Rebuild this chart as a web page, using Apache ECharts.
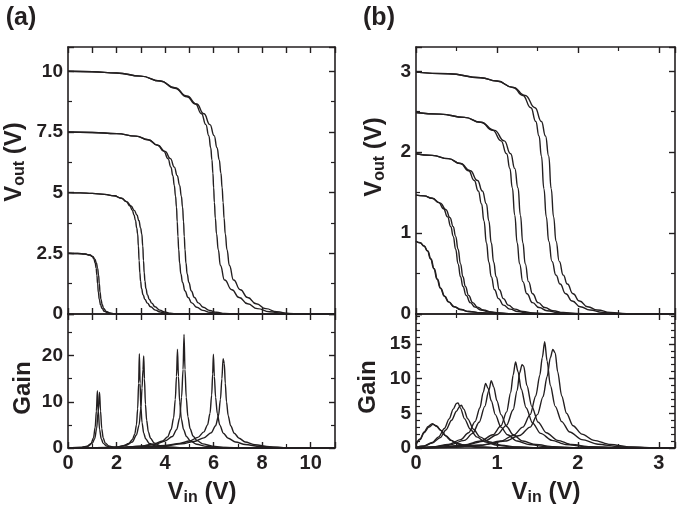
<!DOCTYPE html>
<html><head><meta charset="utf-8">
<script src="https://cdn.jsdelivr.net/npm/echarts@6/dist/echarts.min.js"></script>
<style>html,body{margin:0;padding:0;background:#fff}#c{width:685px;height:508px}</style>
</head><body><div id="c"></div>
<script>
// ---------- Panel (a): Vout vs Vin ----------
const aV25f_x = [0, 0.4, 0.7, 0.9, 1.0, 1.07, 1.12, 1.16, 1.19, 1.22, 1.25, 1.29, 1.34, 1.4, 1.5, 1.65, 1.85, 2.1, 11];
const aV25f_y = [2.5, 2.49, 2.47, 2.43, 2.37, 2.26, 2.1, 1.88, 1.6, 1.25, 0.9, 0.6, 0.38, 0.23, 0.11, 0.045, 0.012, 0, 0];
const aV25b_x = [0, 0.4, 0.7, 0.9, 1.02, 1.11, 1.17, 1.22, 1.26, 1.29, 1.32, 1.36, 1.41, 1.47, 1.57, 1.72, 1.92, 2.15, 11];
const aV25b_y = [2.5, 2.49, 2.47, 2.43, 2.37, 2.26, 2.1, 1.88, 1.6, 1.25, 0.9, 0.6, 0.38, 0.23, 0.11, 0.045, 0.012, 0, 0];
const aV5f_x = [0, 0.5, 1.0, 1.5, 1.9, 2.2, 2.4, 2.55, 2.65, 2.72, 2.78, 2.83, 2.87, 2.9, 2.93, 2.96, 2.99, 3.03, 3.09, 3.17, 3.27, 3.4, 3.6, 3.8, 4.05, 4.3, 11];
const aV5f_y = [5.0, 4.99, 4.97, 4.93, 4.87, 4.77, 4.63, 4.45, 4.27, 4.08, 3.85, 3.55, 3.3, 2.8, 2.2, 1.7, 1.35, 1.05, 0.8, 0.6, 0.45, 0.3, 0.16, 0.08, 0.03, 0, 0];
const aV5b_x = [0, 0.5, 1.0, 1.5, 1.9, 2.2, 2.42, 2.6, 2.73, 2.84, 2.92, 2.99, 3.04, 3.08, 3.11, 3.14, 3.17, 3.21, 3.27, 3.35, 3.45, 3.58, 3.78, 3.98, 4.22, 4.5, 11];
const aV5b_y = [5.0, 4.99, 4.97, 4.93, 4.87, 4.77, 4.63, 4.45, 4.27, 4.08, 3.85, 3.55, 3.3, 2.8, 2.2, 1.7, 1.35, 1.05, 0.8, 0.6, 0.45, 0.3, 0.16, 0.08, 0.03, 0, 0];
const aV75f_x = [0, 1.0, 2.0, 2.8, 3.3, 3.7, 3.95, 4.12, 4.24, 4.32, 4.38, 4.43, 4.47, 4.5, 4.53, 4.56, 4.6, 4.65, 4.72, 4.82, 4.95, 5.1, 5.3, 5.55, 5.85, 6.2, 6.6, 11];
const aV75f_y = [7.5, 7.48, 7.43, 7.33, 7.18, 6.95, 6.7, 6.4, 6.05, 5.7, 5.3, 4.85, 4.4, 3.8, 3.2, 2.65, 2.1, 1.65, 1.3, 0.95, 0.68, 0.46, 0.28, 0.15, 0.07, 0.02, 0, 0];
const aV75b_x = [0, 1.0, 2.0, 2.8, 3.3, 3.7, 4.0, 4.22, 4.38, 4.5, 4.6, 4.67, 4.72, 4.76, 4.79, 4.82, 4.86, 4.91, 4.98, 5.08, 5.21, 5.37, 5.57, 5.82, 6.12, 6.45, 6.85, 11];
const aV75b_y = [7.5, 7.48, 7.43, 7.33, 7.18, 6.95, 6.7, 6.4, 6.05, 5.7, 5.3, 4.85, 4.4, 3.8, 3.2, 2.65, 2.1, 1.65, 1.3, 0.95, 0.68, 0.46, 0.28, 0.15, 0.07, 0.02, 0, 0];
const aV10f_x = [0, 1, 2, 3, 3.8, 4.4, 4.9, 5.25, 5.5, 5.68, 5.8, 5.88, 5.93, 5.97, 6.0, 6.03, 6.07, 6.12, 6.19, 6.28, 6.45, 6.75, 7.05, 7.4, 7.8, 8.3, 8.9, 9.4, 11];
const aV10f_y = [10, 9.98, 9.93, 9.8, 9.6, 9.3, 8.95, 8.65, 8.25, 7.8, 7.35, 6.85, 6.35, 5.8, 5.2, 4.6, 3.95, 3.3, 2.65, 2.0, 1.4, 1.0, 0.68, 0.42, 0.22, 0.09, 0.02, 0, 0];
const aV10b_x = [0, 1, 2, 3, 3.8, 4.4, 4.9, 5.3, 5.6, 5.85, 6.02, 6.14, 6.23, 6.3, 6.35, 6.39, 6.43, 6.48, 6.55, 6.65, 6.82, 7.1, 7.4, 7.75, 8.15, 8.6, 9.1, 9.5, 11];
const aV10b_y = [10, 9.98, 9.93, 9.8, 9.6, 9.32, 8.98, 8.65, 8.25, 7.8, 7.35, 6.85, 6.35, 5.8, 5.2, 4.6, 3.95, 3.3, 2.65, 2.0, 1.4, 1.0, 0.68, 0.42, 0.22, 0.09, 0.02, 0, 0];

// ---------- Panel (a): Gain vs Vin ----------
const aG25f_x = [0, 0.5, 0.8, 0.95, 1.05, 1.12, 1.17, 1.21, 1.25, 1.3, 1.37, 1.45, 1.6, 1.8, 2.2, 11];
const aG25f_y = [0, 0.1, 0.4, 1.0, 2.2, 4.5, 8.0, 12.4, 8.0, 4.0, 2.0, 1.0, 0.4, 0.1, 0, 0];
const aG25b_x = [0, 0.5, 0.8, 1.0, 1.1, 1.18, 1.24, 1.3, 1.34, 1.39, 1.45, 1.53, 1.68, 1.9, 2.3, 11];
const aG25b_y = [0, 0.1, 0.35, 1.0, 2.0, 4.2, 7.8, 12.1, 8.0, 4.2, 2.2, 1.1, 0.45, 0.12, 0, 0];
const aG5f_x = [0, 1.5, 2.0, 2.3, 2.5, 2.65, 2.75, 2.82, 2.87, 2.91, 2.94, 2.97, 3.0, 3.05, 3.12, 3.2, 3.35, 3.6, 4.0, 5, 11];
const aG5f_y = [0, 0.05, 0.2, 0.5, 1.0, 1.8, 3.0, 5.0, 8.5, 14, 20.4, 14, 9, 5.5, 3.2, 2.0, 1.0, 0.45, 0.15, 0.02, 0];
const aG5b_x = [0, 1.5, 2.0, 2.4, 2.65, 2.82, 2.93, 3.0, 3.05, 3.09, 3.12, 3.15, 3.19, 3.24, 3.31, 3.4, 3.55, 3.8, 4.2, 5, 11];
const aG5b_y = [0, 0.05, 0.2, 0.6, 1.3, 2.8, 5.0, 8.5, 13, 17, 19.9, 15, 9.5, 6.0, 3.5, 2.1, 1.1, 0.5, 0.15, 0.02, 0];
const aG75f_x = [0, 2, 3, 3.5, 3.9, 4.1, 4.25, 4.35, 4.42, 4.47, 4.51, 4.55, 4.6, 4.67, 4.76, 4.88, 5.05, 5.3, 5.7, 6.3, 7, 11];
const aG75f_y = [0, 0.1, 0.4, 0.8, 1.5, 2.4, 4.0, 6.5, 10.5, 15.5, 21.4, 15.5, 10, 6.3, 4.0, 2.5, 1.5, 0.8, 0.35, 0.1, 0, 0];
const aG75b_x = [0, 2, 3, 3.6, 4.0, 4.3, 4.48, 4.6, 4.68, 4.74, 4.78, 4.82, 4.87, 4.94, 5.03, 5.15, 5.32, 5.55, 5.95, 6.5, 7.2, 11];
const aG75b_y = [0, 0.1, 0.4, 0.8, 1.5, 2.5, 4.0, 6.5, 11, 17, 24.6, 17, 11, 6.8, 4.2, 2.6, 1.6, 0.9, 0.4, 0.1, 0, 0];
const aG10f_x = [0, 2, 3, 4, 4.6, 5.0, 5.35, 5.6, 5.75, 5.85, 5.92, 5.96, 5.99, 6.03, 6.08, 6.15, 6.25, 6.4, 6.6, 6.9, 7.3, 7.9, 8.6, 9.5, 11];
const aG10f_y = [0, 0.05, 0.2, 0.55, 1.0, 1.5, 2.3, 3.5, 5.0, 7.5, 11.5, 16, 20.3, 15.5, 11, 7.5, 5.0, 3.2, 2.1, 1.3, 0.75, 0.35, 0.12, 0.02, 0];
const aG10b_x = [0, 2, 3, 4, 4.7, 5.2, 5.6, 5.9, 6.08, 6.2, 6.28, 6.34, 6.39, 6.44, 6.48, 6.53, 6.6, 6.7, 6.85, 7.05, 7.3, 7.7, 8.3, 9.0, 9.8, 11];
const aG10b_y = [0, 0.05, 0.2, 0.5, 0.9, 1.4, 2.2, 3.3, 4.8, 7.0, 10.5, 15, 19.3, 18.3, 14, 10, 7.0, 4.8, 3.2, 2.1, 1.3, 0.7, 0.3, 0.08, 0.01, 0];

// ---------- Panel (b): Vout vs Vin ----------
const bV1f_x = [0, 0.05, 0.1, 0.14, 0.18, 0.22, 0.26, 0.3, 0.35, 0.4, 0.47, 0.55, 0.65, 0.8, 1.0, 1.3, 3.2];
const bV1f_y = [0.9, 0.88, 0.84, 0.78, 0.68, 0.56, 0.43, 0.32, 0.22, 0.15, 0.09, 0.055, 0.03, 0.015, 0.006, 0, 0];
const bV1b_x = [0, 0.05, 0.1, 0.145, 0.185, 0.225, 0.265, 0.305, 0.355, 0.405, 0.475, 0.555, 0.655, 0.8, 1.0, 1.3, 3.2];
const bV1b_y = [0.9, 0.88, 0.84, 0.78, 0.68, 0.56, 0.43, 0.32, 0.22, 0.15, 0.09, 0.055, 0.03, 0.015, 0.006, 0, 0];
const bV15f_x = [0, 0.1, 0.2, 0.28, 0.34, 0.39, 0.43, 0.46, 0.49, 0.52, 0.55, 0.58, 0.62, 0.67, 0.73, 0.8, 0.9, 1.0, 1.15, 1.35, 3.2];
const bV15f_y = [1.47, 1.46, 1.43, 1.38, 1.3, 1.2, 1.08, 0.96, 0.8, 0.62, 0.46, 0.34, 0.23, 0.14, 0.085, 0.05, 0.025, 0.012, 0.004, 0, 0];
const bV15b_x = [0, 0.1, 0.2, 0.3, 0.37, 0.42, 0.46, 0.49, 0.52, 0.55, 0.58, 0.61, 0.65, 0.7, 0.76, 0.83, 0.93, 1.03, 1.18, 1.38, 3.2];
const bV15b_y = [1.47, 1.46, 1.43, 1.37, 1.29, 1.19, 1.08, 0.96, 0.8, 0.62, 0.46, 0.34, 0.23, 0.14, 0.085, 0.05, 0.025, 0.012, 0.004, 0, 0];
const bV2f_x = [0, 0.2, 0.4, 0.55, 0.65, 0.72, 0.77, 0.81, 0.84, 0.87, 0.9, 0.93, 0.97, 1.02, 1.08, 1.16, 1.26, 1.38, 1.52, 1.7, 3.2];
const bV2f_y = [1.98, 1.96, 1.92, 1.86, 1.77, 1.65, 1.52, 1.36, 1.15, 0.88, 0.64, 0.46, 0.3, 0.19, 0.11, 0.06, 0.03, 0.014, 0.005, 0, 0];
const bV2b_x = [0, 0.2, 0.4, 0.55, 0.67, 0.76, 0.82, 0.87, 0.9, 0.93, 0.96, 0.99, 1.03, 1.08, 1.14, 1.22, 1.32, 1.44, 1.58, 1.75, 3.2];
const bV2b_y = [1.98, 1.96, 1.92, 1.86, 1.77, 1.65, 1.52, 1.36, 1.15, 0.88, 0.64, 0.46, 0.3, 0.19, 0.11, 0.06, 0.03, 0.014, 0.005, 0, 0];
const bV25f_x = [0, 0.3, 0.6, 0.8, 0.95, 1.05, 1.12, 1.16, 1.19, 1.22, 1.25, 1.28, 1.32, 1.37, 1.44, 1.52, 1.62, 1.75, 1.9, 2.1, 3.2];
const bV25f_y = [2.49, 2.47, 2.43, 2.37, 2.27, 2.14, 1.98, 1.8, 1.56, 1.22, 0.88, 0.62, 0.4, 0.25, 0.14, 0.08, 0.04, 0.018, 0.006, 0, 0];
const bV25b_x = [0, 0.3, 0.6, 0.8, 0.97, 1.09, 1.17, 1.22, 1.26, 1.29, 1.32, 1.35, 1.39, 1.44, 1.51, 1.59, 1.69, 1.82, 1.97, 2.17, 3.2];
const bV25b_y = [2.49, 2.47, 2.43, 2.37, 2.27, 2.14, 1.98, 1.8, 1.56, 1.22, 0.88, 0.62, 0.4, 0.25, 0.14, 0.08, 0.04, 0.018, 0.006, 0, 0];
const bV3f_x = [0, 0.4, 0.8, 1.0, 1.2, 1.32, 1.42, 1.48, 1.52, 1.55, 1.58, 1.61, 1.64, 1.68, 1.73, 1.78, 1.85, 1.93, 2.03, 2.15, 2.3, 2.5, 2.7, 3.2];
const bV3f_y = [2.99, 2.97, 2.92, 2.88, 2.8, 2.7, 2.55, 2.38, 2.2, 1.95, 1.55, 1.2, 0.9, 0.65, 0.48, 0.37, 0.25, 0.16, 0.09, 0.05, 0.02, 0.005, 0, 0];
const bV3b_x = [0, 0.4, 0.8, 1.0, 1.2, 1.35, 1.47, 1.55, 1.6, 1.64, 1.67, 1.7, 1.73, 1.77, 1.82, 1.87, 1.94, 2.02, 2.12, 2.24, 2.4, 2.6, 2.8, 3.2];
const bV3b_y = [2.99, 2.97, 2.92, 2.88, 2.8, 2.7, 2.55, 2.38, 2.2, 1.95, 1.55, 1.2, 0.9, 0.65, 0.48, 0.37, 0.25, 0.16, 0.09, 0.05, 0.02, 0.005, 0, 0];

// ---------- Panel (b): Gain vs Vin ----------
const bG1f_x = [0, 0.05, 0.1, 0.15, 0.2, 0.25, 0.3, 0.36, 0.43, 0.5, 0.6, 0.75, 0.95, 1.2, 3.2];
const bG1f_y = [0.6, 1.3, 2.3, 3.1, 3.5, 3.2, 2.6, 1.8, 1.1, 0.65, 0.35, 0.15, 0.05, 0, 0];
const bG1b_x = [0, 0.05, 0.1, 0.16, 0.21, 0.26, 0.31, 0.37, 0.44, 0.51, 0.61, 0.76, 0.96, 1.2, 3.2];
const bG1b_y = [0.5, 1.2, 2.2, 3.0, 3.4, 3.1, 2.5, 1.75, 1.1, 0.65, 0.35, 0.15, 0.05, 0, 0];
const bG15f_x = [0, 0.1, 0.2, 0.28, 0.35, 0.41, 0.46, 0.5, 0.52, 0.55, 0.6, 0.67, 0.75, 0.85, 1.0, 1.2, 1.5, 3.2];
const bG15f_y = [0.1, 0.3, 0.8, 1.6, 2.8, 4.2, 5.6, 6.4, 6.5, 5.7, 4.2, 2.7, 1.6, 0.9, 0.4, 0.15, 0.03, 0];
const bG15b_x = [0, 0.1, 0.2, 0.3, 0.37, 0.44, 0.5, 0.54, 0.56, 0.59, 0.64, 0.71, 0.79, 0.9, 1.05, 1.25, 1.55, 3.2];
const bG15b_y = [0.1, 0.25, 0.7, 1.5, 2.6, 4.0, 5.3, 6.0, 6.15, 5.6, 4.2, 2.7, 1.6, 0.9, 0.4, 0.15, 0.03, 0];
const bG2f_x = [0, 0.2, 0.4, 0.55, 0.65, 0.73, 0.79, 0.83, 0.86, 0.89, 0.93, 0.98, 1.05, 1.13, 1.25, 1.4, 1.6, 1.9, 3.2];
const bG2f_y = [0, 0.15, 0.5, 1.2, 2.2, 3.8, 5.8, 8.0, 9.3, 8.6, 6.8, 4.8, 3.0, 1.9, 1.0, 0.5, 0.2, 0.05, 0];
const bG2b_x = [0, 0.2, 0.4, 0.6, 0.7, 0.78, 0.85, 0.9, 0.93, 0.96, 1.0, 1.05, 1.12, 1.2, 1.32, 1.48, 1.7, 2.0, 3.2];
const bG2b_y = [0, 0.1, 0.4, 1.1, 2.1, 3.7, 6.0, 8.3, 9.7, 8.8, 6.8, 4.8, 3.1, 1.9, 1.0, 0.5, 0.2, 0.05, 0];
const bG25f_x = [0, 0.3, 0.6, 0.8, 0.95, 1.05, 1.12, 1.17, 1.2, 1.23, 1.26, 1.3, 1.36, 1.44, 1.54, 1.68, 1.85, 2.1, 2.5, 3.2];
const bG25f_y = [0, 0.1, 0.45, 1.0, 1.9, 3.2, 5.2, 8.0, 10.5, 12.4, 11, 8.5, 5.8, 3.6, 2.1, 1.1, 0.5, 0.2, 0.03, 0];
const bG25b_x = [0, 0.3, 0.6, 0.85, 1.0, 1.12, 1.2, 1.25, 1.28, 1.31, 1.33, 1.37, 1.43, 1.51, 1.61, 1.75, 1.92, 2.15, 2.55, 3.2];
const bG25b_y = [0, 0.1, 0.4, 1.0, 1.9, 3.3, 5.5, 8.3, 10.8, 12.0, 11.8, 9.0, 6.0, 3.7, 2.2, 1.1, 0.5, 0.2, 0.03, 0];
const bG3f_x = [0, 0.4, 0.8, 1.05, 1.2, 1.32, 1.41, 1.48, 1.53, 1.56, 1.59, 1.62, 1.66, 1.72, 1.8, 1.9, 2.05, 2.25, 2.5, 2.9, 3.2];
const bG3f_y = [0, 0.1, 0.4, 1.0, 1.8, 3.0, 4.8, 7.5, 10.5, 13, 15.3, 12.5, 9.0, 6.0, 3.8, 2.3, 1.2, 0.55, 0.2, 0.03, 0];
const bG3b_x = [0, 0.4, 0.8, 1.1, 1.28, 1.41, 1.5, 1.57, 1.62, 1.66, 1.69, 1.72, 1.75, 1.8, 1.86, 1.94, 2.05, 2.2, 2.4, 2.65, 3.0, 3.2];
const bG3b_y = [0, 0.1, 0.4, 1.0, 1.8, 3.0, 4.8, 7.4, 10.3, 13, 14.2, 13.7, 11, 7.5, 5.0, 3.2, 2.0, 1.1, 0.5, 0.15, 0.02, 0];

// ---------- Axis ranges / ticks ----------
const aX = {min: 0, max: 11, interval: 2, minor: 2};
const aXtop = {min: 0, max: 11, interval: 1, minor: 1};
const aYV = {min: 0, max: 11, interval: 2.5, minor: 2};
const aYG = {min: 0, max: 29, interval: 10, minor: 2};
const bX = {min: 0, max: 3.2, interval: 1, minor: 2};
const bYV = {min: 0, max: 3.3, interval: 1, minor: 2};
const bYG = {min: 0, max: 19.3, interval: 5, minor: 5};

const FONT = '"Liberation Sans", Arial, Helvetica, sans-serif';
const INK = '#231f20';

function zip(xs, ys) { return xs.map((x, i) => [x, ys[i]]); }

function axis(spec, gridIndex, position, showLabel, labelSize) {
  return {
    type: 'value', gridIndex, position,
    min: spec.min, max: spec.max, interval: spec.interval,
    axisLine: {show: true, onZero: false, lineStyle: {color: INK, width: 1.6}},
    axisTick: {show: true, inside: true, length: 6, lineStyle: {color: INK, width: 1.4}},
    minorTick: {show: spec.minor > 1, splitNumber: spec.minor, length: 4, lineStyle: {color: INK, width: 1.2}},
    splitLine: {show: false}, minorSplitLine: {show: false},
    axisLabel: {
      show: showLabel, color: INK, fontFamily: FONT, fontWeight: 'bold', fontSize: labelSize, margin: 5,
      showMaxLabel: false,
      formatter: v => { const r = v / spec.interval; return Math.abs(r - Math.round(r)) < 1e-6 ? String(+v.toFixed(2)) : ''; }
    }
  };
}

const grids = [
  {left: 68, top: 47, width: 267, height: 267},
  {left: 68, top: 314, width: 267, height: 134},
  {left: 416, top: 47, width: 259, height: 267},
  {left: 416, top: 314, width: 259, height: 134}
];

const xAxes = [
  axis(aXtop, 0, 'bottom', false, 20), axis(aXtop, 0, 'top', false, 20),
  axis(aX, 1, 'bottom', true, 20), axis(aXtop, 1, 'top', false, 20),
  axis(bX, 2, 'bottom', false, 20), axis(bX, 2, 'top', false, 20),
  axis(bX, 3, 'bottom', true, 20), axis(bX, 3, 'top', false, 20)
];
const yAxes = [
  axis(aYV, 0, 'left', true, 19), axis(aYV, 0, 'right', false, 19),
  axis(aYG, 1, 'left', true, 19), axis(aYG, 1, 'right', false, 19),
  axis(bYV, 2, 'left', true, 19), axis(bYV, 2, 'right', false, 19),
  axis(bYG, 3, 'left', true, 19), axis(bYG, 3, 'right', false, 19)
];

function line(xs, ys, ax, sm) {
  return {
    type: 'line', data: zip(xs, ys), xAxisIndex: ax, yAxisIndex: ax,
    symbol: 'none', showSymbol: false, smooth: sm, smoothMonotone: 'x',
    lineStyle: {color: INK, width: 1.4}, silent: true, animation: false
  };
}

const series = [
  line(aV25f_x, aV25f_y, 0, 0.5), line(aV25b_x, aV25b_y, 0, 0.5),
  line(aV5f_x, aV5f_y, 0, 0.5), line(aV5b_x, aV5b_y, 0, 0.5),
  line(aV75f_x, aV75f_y, 0, 0.5), line(aV75b_x, aV75b_y, 0, 0.5),
  line(aV10f_x, aV10f_y, 0, 0.5), line(aV10b_x, aV10b_y, 0, 0.5),
  line(aG25f_x, aG25f_y, 2, 0.3), line(aG25b_x, aG25b_y, 2, 0.3),
  line(aG5f_x, aG5f_y, 2, 0.3), line(aG5b_x, aG5b_y, 2, 0.3),
  line(aG75f_x, aG75f_y, 2, 0.3), line(aG75b_x, aG75b_y, 2, 0.3),
  line(aG10f_x, aG10f_y, 2, 0.3), line(aG10b_x, aG10b_y, 2, 0.3),
  line(bV1f_x, bV1f_y, 4, 0.5), line(bV1b_x, bV1b_y, 4, 0.5),
  line(bV15f_x, bV15f_y, 4, 0.5), line(bV15b_x, bV15b_y, 4, 0.5),
  line(bV2f_x, bV2f_y, 4, 0.5), line(bV2b_x, bV2b_y, 4, 0.5),
  line(bV25f_x, bV25f_y, 4, 0.5), line(bV25b_x, bV25b_y, 4, 0.5),
  line(bV3f_x, bV3f_y, 4, 0.5), line(bV3b_x, bV3b_y, 4, 0.5),
  line(bG1f_x, bG1f_y, 6, 0.3), line(bG1b_x, bG1b_y, 6, 0.3),
  line(bG15f_x, bG15f_y, 6, 0.3), line(bG15b_x, bG15b_y, 6, 0.3),
  line(bG2f_x, bG2f_y, 6, 0.3), line(bG2b_x, bG2b_y, 6, 0.3),
  line(bG25f_x, bG25f_y, 6, 0.3), line(bG25b_x, bG25b_y, 6, 0.3),
  line(bG3f_x, bG3f_y, 6, 0.3), line(bG3b_x, bG3b_y, 6, 0.3)
];

const rich = {
  m: {fontSize: 24, fontWeight: 'bold', fontFamily: FONT, fill: INK, color: INK, lineHeight: 28, verticalAlign: 'middle'},
  s: {fontSize: 16, fontWeight: 'bold', fontFamily: FONT, fill: INK, color: INK, lineHeight: 15, verticalAlign: 'bottom'}
};
function title(text, x, y, rot) {
  return {type: 'text', x, y, rotation: rot ? Math.PI / 2 : 0, silent: true,
    style: {text, rich, align: 'center', verticalAlign: 'middle', fill: INK, font: 'bold 24px ' + FONT}};
}
const graphics = [
  title('{m|V}{s|out}{m| (V)}', 14, 162, true),
  title('{m|Gain}', 23, 388, true),
  title('{m|V}{s|in}{m| (V)}', 202, 492, false),
  title('{m|V}{s|out}{m| (V)}', 374, 157, true),
  title('{m|Gain}', 368, 387, true),
  title('{m|V}{s|in}{m| (V)}', 546, 492, false),
  {type: 'text', x: 21, y: 18, silent: true, style: {text: '(a)', align: 'center', verticalAlign: 'middle', fill: INK, font: 'bold 25px ' + FONT}},
  {type: 'text', x: 379, y: 18, silent: true, style: {text: '(b)', align: 'center', verticalAlign: 'middle', fill: INK, font: 'bold 25px ' + FONT}}
];

const chart = echarts.init(document.getElementById('c'), null, {renderer: 'canvas'});
chart.setOption({
  animation: false,
  backgroundColor: '#ffffff',
  grid: grids.map(g => Object.assign({outerBoundsMode: 'none', containLabel: false}, g)),
  xAxis: xAxes, yAxis: yAxes, series, graphic: graphics
});
</script>
</body></html>
